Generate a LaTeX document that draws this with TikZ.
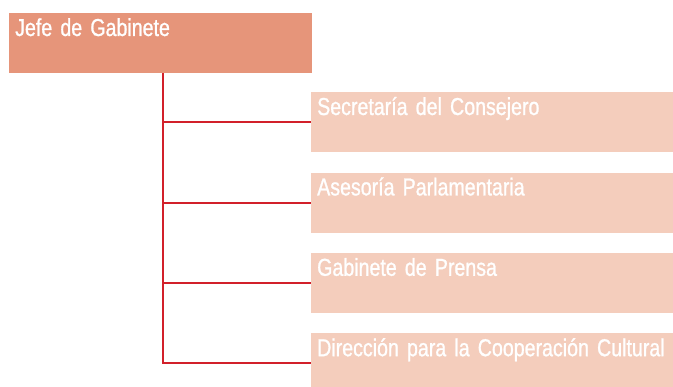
\documentclass[tikz,border=0pt]{standalone}
\usepackage{fontspec}
\setmainfont{Liberation Sans}[FakeStretch=0.8, FakeBold=1]
\usepackage{tikz}
\usetikzlibrary{positioning}

\definecolor{jefefill}{HTML}{E6957A}
\definecolor{unitfill}{HTML}{F4CDBC}
\definecolor{linkred}{HTML}{D2202A}

\newcommand{\boxfont}{\fontsize{24.5}{27}\selectfont\spaceskip=4.6pt plus 1pt\relax}

\begin{document}
\begin{tikzpicture}[x=1pt, y=-1pt,
		basic/.style  = {rectangle, anchor=north west, inner xsep=6pt, inner ysep=0pt, text=white, align=left,
			font=\boxfont, text height=22.8pt, text depth=37.2pt},
		root/.style   = {basic, fill=jefefill, text width=291pt},
		unit/.style   = {basic, fill=unitfill, text width=350pt},
		link/.style   = {draw=linkred, line width=2pt}]
		
		\clip (0,0) rectangle (673,387);
		
		\node[root] (jefe) at (9,13) {Jefe de Gabinete};
		
		\begin{scope}[every node/.style={unit}]
		\node (c1) at (311,92) {Secretaría del Consejero};
		\node [below=20pt of c1.south west, anchor=north west] (c2) {Asesoría Parlamentaria};
		\node [below=20pt of c2.south west, anchor=north west] (c3) {Gabinete de Prensa};
		\node [below=20pt of c3.south west, anchor=north west] (c4) {Dirección para la Cooperación Cultural};
		\end{scope}
		
		\coordinate (trunk) at ([xshift=154pt]jefe.south west);
		
		\foreach \value in {1,...,4}
		\draw[link] (trunk) |- (c\value.west);
		
	\end{tikzpicture}
\end{document}
